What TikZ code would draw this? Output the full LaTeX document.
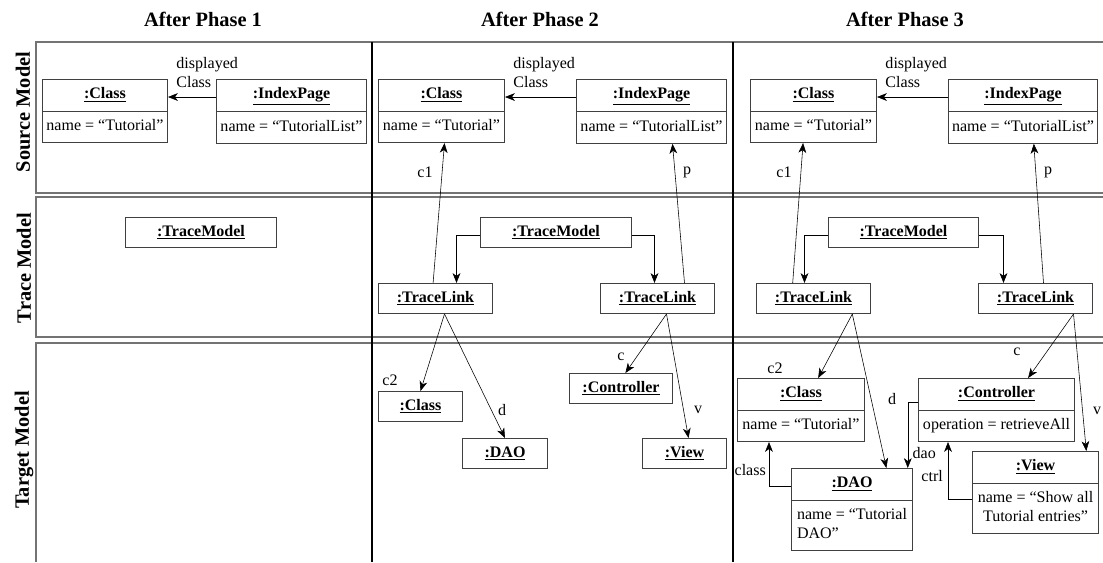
\documentclass[tikz,border=0pt]{standalone}
\usepackage{fontspec}
\setmainfont{Liberation Serif}
\usetikzlibrary{shapes.multipart,arrows.meta}
\newcommand\oname[1]{\strut\underline{\textbf{#1}}}

\begin{document}
\begin{tikzpicture}[x=0.025cm,y=-0.025cm,>={Stealth[length=7pt,width=5.5pt,inset=2pt]},
  font=\fontsize{11.4}{13.2}\selectfont,
  obj/.style={draw=black!75,line width=0.7pt,rectangle split,rectangle split parts=2,
    inner xsep=2pt,inner ysep=4.25pt,anchor=north west},
  inst/.style={draw=black!75,line width=0.7pt,minimum height=0.75cm,inner sep=2pt,anchor=north west},
  wd/.style={minimum width=#1*0.025cm},
  lbl/.style={inner sep=1pt},
  head/.style={font=\fontsize{14.5}{16}\selectfont\bfseries},
  lane/.style={draw=black!55,line width=1pt}]
  \useasboundingbox (0,0) rectangle (1103,562);

  \node[head] (h1) at (203,19) {After Phase 1};
  \node[head] (h2) at (540,19) {After Phase 2};
  \node[head] (h3) at (905,19) {After Phase 3};
  \node[head,rotate=90] (rsrc) at (23,112) {Source Model};
  \node[head,rotate=90] (rtrc) at (24,268) {Trace Model};
  \node[head,rotate=90] (rtgt) at (24,450) {Target Model};

  \draw[lane] (1103,42) -| (36,193) -- (1103,193);
  \draw[lane] (1103,197) -| (36,337) -- (1103,337);
  \draw[lane] (1103,343) -- (36,343) -- (36,562);
  \draw[line width=1pt] (372,42) -- (372,562) (733,42) -- (733,562);

  % source model
  \node[obj,wd=125] (cls1) at (42,79) {\oname{:Class}\nodepart{two}\strut name = “Tutorial”};
  \node[obj,wd=150] (idx1) at (216,79) {\oname{:IndexPage}\nodepart{two}\strut name = “TutorialList”};
  \node[obj,wd=126] (cls2) at (378,79) {\oname{:Class}\nodepart{two}\strut name = “Tutorial”};
  \node[obj,wd=150] (idx2) at (576,79) {\oname{:IndexPage}\nodepart{two}\strut name = “TutorialList”};
  \node[obj,wd=126] (cls3) at (750,79) {\oname{:Class}\nodepart{two}\strut name = “Tutorial”};
  \node[obj,wd=149] (idx3) at (948,79) {\oname{:IndexPage}\nodepart{two}\strut name = “TutorialList”};

  % trace model
  \node[inst,wd=151] (tm1) at (125,217) {\oname{:TraceModel}};
  \node[inst,wd=151] (tm2) at (480,217) {\oname{:TraceModel}};
  \node[inst,wd=150] (tm3) at (828,217) {\oname{:TraceModel}};
  \node[inst,wd=114] (tl2a) at (378,283) {\oname{:TraceLink}};
  \node[inst,wd=114] (tl2b) at (600,283) {\oname{:TraceLink}};
  \node[inst,wd=114] (tl3a) at (756,283) {\oname{:TraceLink}};
  \node[inst,wd=114] (tl3b) at (978,283) {\oname{:TraceLink}};

  % target model
  \node[inst,wd=84] (cls2t) at (378,391) {\oname{:Class}};
  \node[inst,wd=85] (dao2) at (462,438) {\oname{:DAO}};
  \node[inst,wd=103] (ctl2) at (569,373) {\oname{:Controller}};
  \node[inst,wd=84] (view2) at (642,438) {\oname{:View}};
  \node[obj,wd=127] (cls3t) at (737,378) {\oname{:Class}\nodepart{two}\strut name = “Tutorial”};
  \node[obj,wd=121] (dao3) at (791,468) {\oname{:DAO}\nodepart{two}\begin{tabular}{@{}l@{}}name = “Tutorial\\DAO”\end{tabular}};
  \node[obj,wd=156] (ctl3) at (918,378) {\oname{:Controller}\nodepart{two}\strut operation = retrieveAll};
  \node[obj,wd=126] (view3) at (972,451) {\oname{:View}\nodepart{two}\begin{tabular}{@{}c@{}}name = “Show all\\Tutorial entries”\end{tabular}};

  \foreach \s/\t in {idx1/cls1,idx2/cls2,idx3/cls3}
    \draw[->] ([yshift=-0.45cm]\s.north west) -- node[lbl,pos=1,anchor=south west,xshift=0.17cm,yshift=0.2cm,align=left]{displayed\\Class} ([yshift=-0.45cm]\t.north east);

  \draw[->] ([yshift=-0.075cm]tm2.west) -| ([xshift=0.525cm]tl2a.north);
  \draw[->] ([yshift=-0.075cm]tm2.east) -| ([xshift=-0.075cm]tl2b.north);
  \draw[->] ([yshift=-0.075cm]tm3.west) -| ([xshift=-0.225cm]tl3a.north);
  \draw[->] ([yshift=-0.075cm]tm3.east) -| ([xshift=-0.8cm]tl3b.north);

  \draw[->] ([xshift=-0.06cm]tl2a.north) -- ([xshift=0.075cm]cls2.south);
  \draw[->] ([xshift=0.675cm]tl2b.north) -- ([xshift=0.525cm]idx2.south);
  \draw[->] ([xshift=-0.52cm]tl3a.north) -- ([xshift=-0.26cm]cls3.south);
  \draw[->] ([xshift=0.2cm]tl3b.north) -- ([xshift=0.27cm]idx3.south);

  \draw[->] ([xshift=0.225cm]tl2a.south) -- (cls2t.north);
  \draw[->] ([xshift=0.225cm]tl2a.south) -- (dao2.north);
  \draw[->] ([xshift=0.225cm]tl2b.south) -- ([xshift=0.11cm]ctl2.north);
  \draw[->] ([xshift=0.225cm]tl2b.south) -- ([xshift=0.1cm]view2.north);
  \draw[->] ([xshift=0.97cm]tl3a.south) -- ([xshift=0.43cm]cls3t.north);
  \draw[->] ([xshift=0.97cm]tl3a.south) -- ([xshift=0.86cm]dao3.north);
  \draw[->] ([xshift=0.95cm]tl3b.south) -- ([xshift=0.79cm]ctl3.north);
  \draw[->] ([xshift=0.95cm]tl3b.south) -- ([xshift=1.27cm]view3.north);

  \draw[->] ([yshift=-0.45cm]dao3.north west) -| ([xshift=-0.8cm]cls3t.south);
  \draw[->] ([yshift=-0.6cm]ctl3.north west) -| ([xshift=-0.13cm]dao3.north east);
  \draw[->] ([yshift=-1.2cm]view3.north west) -| ([xshift=0.75cm]ctl3.south west);

  \node[lbl] (c1b) at (425,172) {c1};
  \node[lbl] (pb) at (687,172) {p};
  \node[lbl] (c1c) at (784,172) {c1};
  \node[lbl] (pc) at (1048,172) {p};
  \node[lbl] (c2b) at (390,380) {c2};
  \node[lbl] (db) at (502,410) {d};
  \node[lbl] (cb) at (621,357) {c};
  \node[lbl] (vb) at (698,410) {v};
  \node[lbl] (c2c) at (775,368) {c2};
  \node[lbl] (dc) at (892,399) {d};
  \node[lbl] (cc) at (1017,352) {c};
  \node[lbl] (vc) at (1097,411) {v};
  \node[lbl,anchor=east] (clsc) at (767.5,470) {class};
  \node[lbl,anchor=west] (daoc) at (911,453) {dao};
  \node[lbl,anchor=east] (ctrlc) at (944.5,476) {ctrl};
\end{tikzpicture}
\end{document}
